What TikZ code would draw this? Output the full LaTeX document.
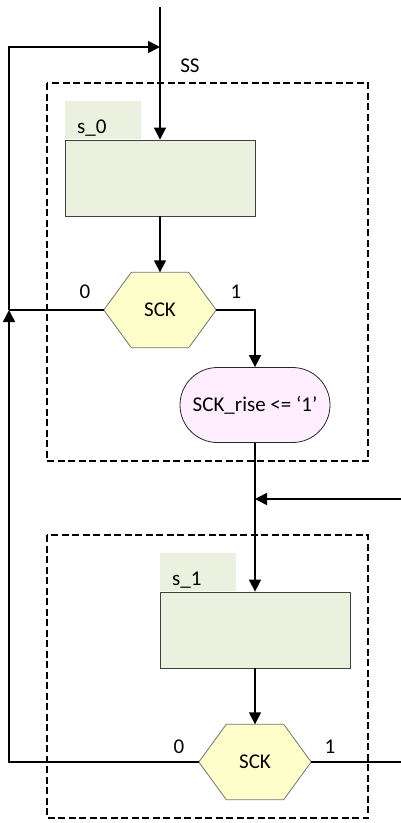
\documentclass[tikz,border=0pt]{standalone}
\usepackage{fontspec}
\setmainfont{Carlito}
\usetikzlibrary{arrows.meta,backgrounds,calc}
\definecolor{stategreen}{HTML}{EBF1DE}
\definecolor{hexyellow}{HTML}{FFFFCC}
\definecolor{ovalpink}{HTML}{FFEEFF}
\tikzset{
  stbox/.style={draw=black!75, fill=stategreen, line width=0.8pt,
    minimum width=190pt, minimum height=76pt, inner sep=0pt},
  tabbox/.style={fill=stategreen, minimum width=76pt, minimum height=38pt,
    inner sep=0pt, anchor=south west},
  hexcore/.style={minimum width=112pt, minimum height=75pt, inner sep=0pt},
  hexline/.style={draw=black!55, fill=hexyellow, line width=0.8pt},
  ovalbox/.style={draw=black!85, fill=ovalpink, line width=0.8pt,
    rounded corners=37.5pt, minimum width=150pt, minimum height=75pt, inner sep=0pt},
  flow/.style={line width=1.6pt, -{Triangle[length=12pt,width=12pt]}},
  wire/.style={line width=1.6pt},
  frame/.style={line width=1.6pt, dash pattern=on 7pt off 3.5pt},
  lbl/.style={inner sep=0pt}
}
% hexagonal decision outline round a named node
\newcommand\hexoutline[1]{%
  \begin{scope}[on background layer]
    \filldraw[hexline] (#1.west) -- ([xshift=27.5pt]#1.north west)
      -- ([xshift=-27.5pt]#1.north east) -- (#1.east)
      -- ([xshift=-27.5pt]#1.south east) -- ([xshift=27.5pt]#1.south west)
      -- cycle;
  \end{scope}}
\begin{document}
\begin{tikzpicture}[x=1pt, y=-1pt, font=\fontsize{21}{25}\selectfont]
\useasboundingbox (0,0) rectangle (401,823);

% state frames
\draw[frame] (47,83) rectangle (368,461);
\draw[frame] (47,535) rectangle (368,818);

% state s_0
\node[stbox] (st0) at (160,178) {};
\node[tabbox] (tab0) at (st0.north west) {};
\node[stbox] (st0b) at (160,178) {};
\node[lbl, anchor=west] (n0) at (77,128) {s\_0};
\node[hexcore] (d0) at (160,310) {SCK};
\hexoutline{d0}
\node[ovalbox] (sr) at (255,405) {SCK\_rise <= ‘1’};

% state s_1
\node[stbox] (st1) at (255,630) {};
\node[tabbox] (tab1) at (st1.north west) {};
\node[stbox] (st1b) at (255,630) {};
\node[lbl, anchor=west] (n1) at (172,580) {s\_1};
\node[hexcore] (d1) at (255,762) {SCK};
\hexoutline{d1}

% labels
\node[lbl] (ss) at (190,66) {SS};
\node[lbl] (z0) at (85,292) {0};
\node[lbl] (o0) at (236,292) {1};
\node[lbl] (z1) at (179,747) {0};
\node[lbl] (o1) at (330,747) {1};

% junction points
\coordinate (in0) at (160,7);
\coordinate (m0) at (160,47);
\coordinate (tl) at (9,47);
\coordinate (j0) at (9,310);
\coordinate (j1) at (9,762);
\coordinate (rin) at (401,499);
\coordinate (rout) at (401,762);

% connectors
\draw[flow] (in0) -- (st0.north);
\draw[flow] (st0.south) -- (d0.north);
\draw[flow] (d0.east) -| (sr.north);
\draw[wire] (d0.west) -- (j0);
\draw[flow] (j0) -- (tl) -- (m0);
\draw[flow] (sr.south) -- (st1.north);
\draw[flow] (rin) -- (rin -| sr.south);
\draw[flow] (st1.south) -- (d1.north);
\draw[flow] (d1.west) -- (j1) -- (j0);
\draw[wire] (d1.east) -- (rout);
\end{tikzpicture}
\end{document}
